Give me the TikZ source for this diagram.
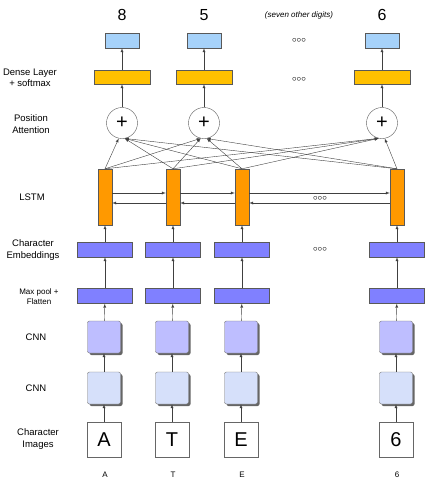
\documentclass[tikz,border=0pt]{standalone}
\usepackage{fontspec}
\setmainfont{Liberation Sans}
\usetikzlibrary{shadows}
\definecolor{outblue}{RGB}{166,210,250}
\definecolor{densegold}{RGB}{255,192,0}
\definecolor{lstmorange}{RGB}{255,153,0}
\definecolor{embpurple}{RGB}{128,128,255}
\definecolor{cnnlav}{RGB}{190,190,255}
\definecolor{cnnblue}{RGB}{214,224,250}
\begin{document}
\begin{tikzpicture}[x=1pt, y=-1pt,
  every node/.style={inner sep=0pt},
  outbox/.style={draw=black!65, fill=outblue, minimum width=34pt, minimum height=15pt},
  densebox/.style={draw=black!65, fill=densegold, minimum width=56pt, minimum height=14pt},
  attn/.style={draw=black!65, circle, minimum size=31pt, font=\fontsize{20}{20}\selectfont},
  lstmbox/.style={draw=black!65, fill=lstmorange, minimum width=14pt, minimum height=56pt},
  embbox/.style={draw=black!65, fill=embpurple, minimum width=55pt, minimum height=15pt},
  cnnbox/.style={draw=black!55, rounded corners=2pt, minimum width=33pt, minimum height=32pt,
    drop shadow={shadow xshift=2pt, shadow yshift=-2pt, fill=black!60, opacity=1}},
  imgbox/.style={draw=black!60, fill=white, minimum width=34pt, minimum height=35pt,
    font=\fontsize{20}{20}\selectfont},
  sidelabel/.style={align=center, font=\fontsize{9.5}{11.5}\selectfont},
  dots/.style={font=\small},
  conn/.style={-latex, draw=black!75, thin}]
\useasboundingbox (0,0) rectangle (426,480);
%\draw[help lines, color=gray!30, dashed] (0,0) grid (426,480);

% left column labels
\node[sidelabel] (lbdense) at (30,78) {Dense Layer\\+ softmax};
\node[sidelabel] (lbatt) at (31,124) {Position\\Attention};
\node[sidelabel] (lblstm) at (32,197) {LSTM};
\node[sidelabel] (lbemb) at (33,250) {Character\\Embeddings};
\node[sidelabel, font=\fontsize{8}{10}\selectfont] (lbpool) at (39,297) {Max pool +\\Flatten};
\node[sidelabel] (lbcnna) at (36,337) {CNN};
\node[sidelabel] (lbcnnb) at (36,388) {CNN};
\node[sidelabel] (lbimg) at (38,439) {Character\\Images};

% output side
\foreach \x/\n/\d in {122/1/8, 204/2/5, 382/3/6} {
  \node[font=\fontsize{16}{18}\selectfont] (d\n) at (\x,15) {\d};
  \node[outbox] (o\n) at (\x,40.5) {};
  \node[densebox] (s\n) at (\x,77) {};
  \node[attn] (a\n) at (\x,123) {+};
  \draw[conn] (a\n) -- (s\n);
  \draw[conn] (s\n) -- (o\n);
}
\node[font=\itshape\fontsize{8}{10}\selectfont] (other) at (299,15) {(seven other digits)};
\node[dots] (dotsout) at (299,40) {${\circ}{\circ}{\circ}$};
\node[dots] (dotsdense) at (299,79) {${\circ}{\circ}{\circ}$};

% input side
\foreach \x/\n/\c in {105/1/A, 173/2/T, 242/3/E, 397/4/6} {
  \node[lstmbox] (l\n) at (\x,197) {};
  \node[embbox] (e\n) at (\x,249.5) {};
  \node[embbox] (m\n) at (\x,296) {};
  \node[cnnbox, fill=cnnlav] (c\n) at (\x-1,337) {};
  \node[cnnbox, fill=cnnblue] (k\n) at (\x-1,388) {};
  \node[imgbox] (i\n) at (\x-1,439.5) {\c};
  \node[font=\fontsize{8}{10}\selectfont] (t\n) at (\x,475) {\c};
  \draw[conn] (i\n) -- (k\n);
  \draw[conn] (k\n) -- (c\n);
  \draw[conn] (c\n) -- (m\n);
  \draw[conn] (m\n) -- (e\n);
  \draw[conn] (e\n) -- (l\n);
}
\node[dots] (dotslstm) at (320,198) {${\circ}{\circ}{\circ}$};
\node[dots] (dotsemb) at (320,249) {${\circ}{\circ}{\circ}$};

% bidirectional LSTM links
\foreach \i/\j in {1/2, 2/3, 3/4} {
  \draw[conn] ([yshift=4pt]l\i.east) -- ([yshift=4pt]l\j.west);
  \draw[conn] ([yshift=-6pt]l\j.west) -- ([yshift=-6pt]l\i.east);
}

% attention over all LSTM outputs
\foreach \i in {1,...,4}
  \foreach \j in {1,2,3} {
    \pgfmathsetmacro\ang{ifthenelse(\i<=\j,258,280)}
    \draw[conn] (l\i.north) -- (a\j.\ang);
  }
\end{tikzpicture}
\end{document}
